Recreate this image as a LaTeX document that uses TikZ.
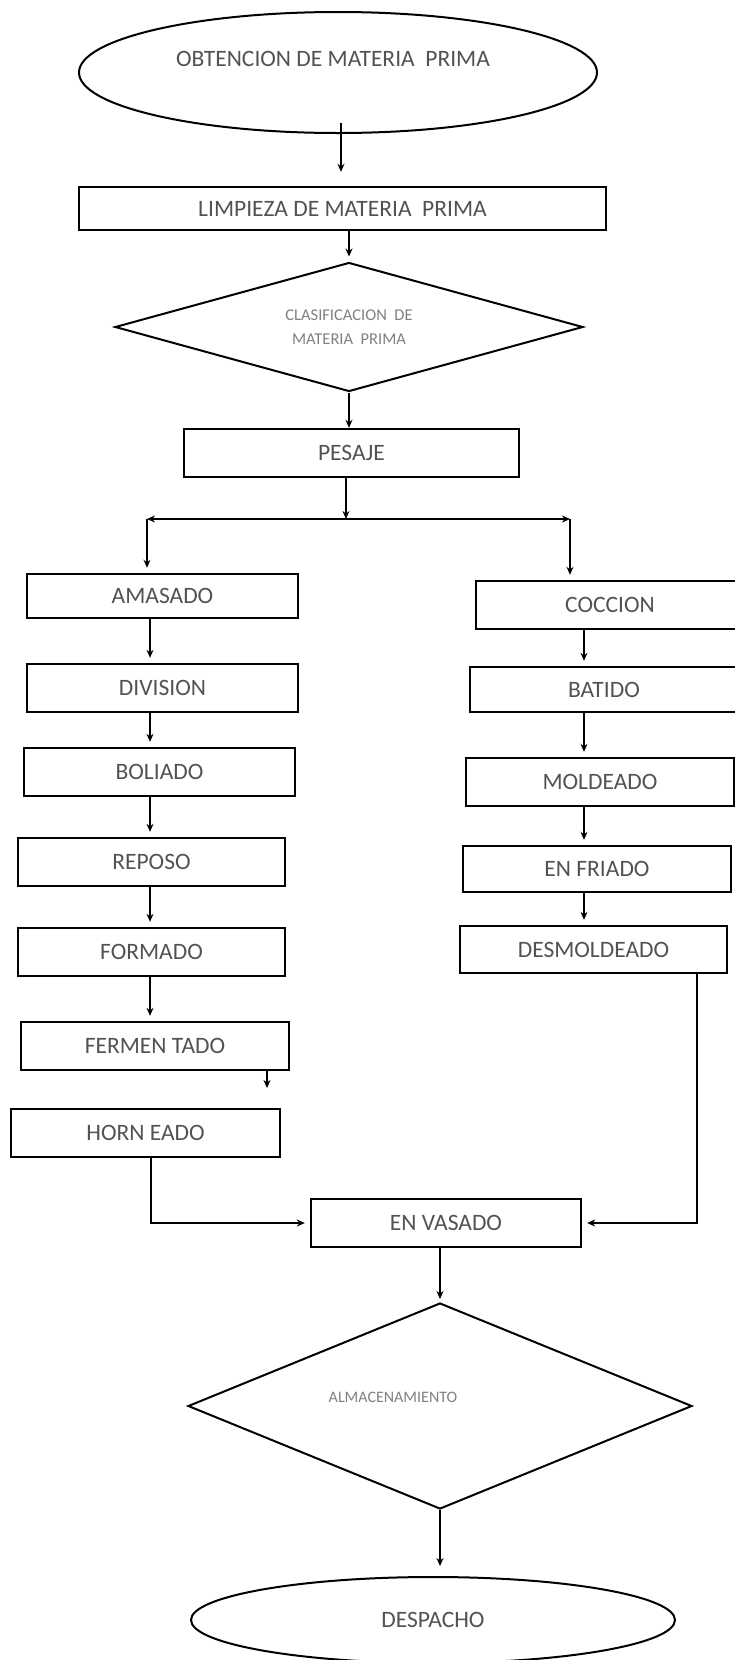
\documentclass[tikz,border=0pt]{standalone}
\usepackage{fontspec}
\setmainfont{Carlito}
\usetikzlibrary{shapes.geometric, arrows.meta, positioning}

\begin{document}
\begin{tikzpicture}[
  x=1pt, y=-1pt,
  txt/.style={font=\fontsize{23.5}{27}\selectfont, text=black!68},
  box/.style={rectangle, draw, line width=2.4pt, minimum height=47pt, minimum width=268pt, txt},
  term/.style={ellipse, draw, line width=2pt, inner sep=0pt},
  decision/.style={diamond, draw, line width=2pt, inner sep=0pt, align=center, text=black!50},
  arrow/.style={-{Stealth[length=8pt, width=7pt]}, line width=2pt, shorten >=5pt}
]
  \useasboundingbox (0,0) rectangle (734,1660);

  % Trunk
  \node[term, minimum width=518pt, minimum height=121pt,
        label={[txt, xshift=-5pt, yshift=14pt]center:OBTENCION DE MATERIA\ \ PRIMA}] (obt) at (338,72.5) {};
  \node[box, minimum width=527pt, minimum height=43pt] (limp) at (342.5,208.5) {LIMPIEZA DE MATERIA\ \ PRIMA};
  \node[decision, aspect=3.63, minimum width=468pt, minimum height=129pt, font=\fontsize{16.5}{24}\selectfont] (clas) at (349,327)
       {CLASIFICACION\ \ DE\\ MATERIA\ \ PRIMA};
  \node[box, minimum width=335pt, minimum height=48pt] (pesaje) at (351.5,453) {PESAJE};
  \draw[arrow, shorten >=14pt] ([xshift=3pt, yshift=11pt]obt.south) -- ([xshift=3pt]obt.south |- limp.north);
  \draw[arrow] (limp.south -| clas.north) -- (clas.north);
  \draw[arrow, shorten >=0pt] (clas.south) -- (clas.south |- pesaje.north);

  % Split
  \coordinate (split) at (346,519);
  \coordinate (lt) at (147,519);
  \coordinate (rt) at (570,519);
  \draw[arrow, shorten >=0pt] (pesaje.south -| split) -- (split);
  \draw[arrow, shorten >=0pt] (split) -- (lt);
  \draw[arrow, shorten >=0pt] (split) -- (rt);

  % Left branch
  \coordinate (lcol) at (150,0);
  \node[box, minimum width=271pt, minimum height=44pt] (amasado) at (162.5,596) {AMASADO};
  \node[box, minimum width=271pt, minimum height=48pt] (division) at (162.5,688) {DIVISION};
  \node[box, minimum width=271pt, minimum height=48pt] (boliado) at (159.5,772) {BOLIADO};
  \node[box, minimum width=267pt, minimum height=48pt] (reposo) at (151.5,862) {REPOSO};
  \node[box, minimum width=267pt, minimum height=48pt] (formado) at (151.5,952) {FORMADO};
  \node[box, minimum width=268pt, minimum height=48pt] (ferment) at (155,1046) {FERMEN TADO};
  \node[box, minimum width=269pt, minimum height=48pt] (horneado) at (145.5,1133) {HORN EADO};
  \draw[arrow] (lt) -- (lt |- amasado.north);
  \foreach \a/\b in {amasado/division, division/boliado, boliado/reposo, reposo/formado, formado/ferment}
    \draw[arrow] (\a.south -| lcol) -- (\b.north -| lcol);
  \coordinate (stub) at (267,1088);
  \draw[arrow, shorten >=0pt] (ferment.south -| stub) -- (stub);

  % Right branch
  \coordinate (rcol) at (584,0);
  \node[box, minimum height=48pt] (coccion) at (610,605) {COCCION};
  \node[box, minimum height=45pt] (batido) at (604,689.5) {BATIDO};
  \node[box, minimum height=48pt] (moldeado) at (600,782) {MOLDEADO};
  \node[box, minimum height=46pt] (enfriado) at (597,869) {EN FRIADO};
  \node[box, minimum width=267pt, minimum height=47pt] (desmold) at (593.5,949.5) {DESMOLDEADO};
  \draw[arrow] (rt) -- (rt |- coccion.north);
  \foreach \a/\b in {coccion/batido, batido/moldeado, moldeado/enfriado, enfriado/desmold}
    \draw[arrow] (\a.south -| rcol) -- (\b.north -| rcol);

  % Join
  \node[box, minimum width=270pt, minimum height=48pt] (envasado) at (446,1223) {EN VASADO};
  \draw[arrow] ([xshift=5pt]horneado.south) |- (envasado.west);
  \draw[arrow] ([xshift=103.5pt]desmold.south) |- (envasado.east);

  % End
  \node[decision, minimum width=504pt, minimum height=206pt,
        label={[font=\fontsize{16}{20}\selectfont, text=black!50, xshift=-47pt, yshift=9pt]center:ALMACENAMIENTO}] (almac) at (440,1406) {};
  \node[term, minimum width=484pt, minimum height=86pt, txt] (despacho) at (433,1620) {DESPACHO};
  \draw[arrow, shorten >=3pt] (envasado.south -| almac.north) -- (almac.north);
  \draw[arrow, shorten >=10pt] (almac.south) -- (almac.south |- despacho.north);
\end{tikzpicture}
\end{document}
